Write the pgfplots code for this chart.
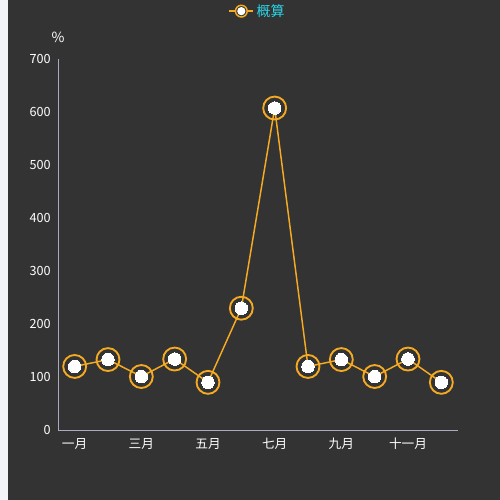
\documentclass[border=0pt]{standalone}
\usepackage{pgfplots}
\pgfplotsset{compat=1.18}
\usepackage{fontspec}
\setmainfont{Noto Sans CJK SC}
\definecolor{bg}{HTML}{333333}
\definecolor{strip}{HTML}{F3F4F8}
\definecolor{lineor}{RGB}{245,170,35}
\definecolor{axisc}{HTML}{A9A9C0}
\definecolor{legc}{HTML}{29D3E6}
\begin{document}
\begin{tikzpicture}
\useasboundingbox (0pt,0pt) rectangle (375pt,375pt);
\fill[bg] (0pt,0pt) rectangle (375pt,375pt);
\fill[strip] (0pt,0pt) rectangle (6pt,375pt);
\begin{axis}[
  at={(43.5pt,52.5pt)}, anchor=south west,
  scale only axis, width=300pt, height=278pt,
  xmin=0.5, xmax=12.5, ymin=0, ymax=700,
  axis x line=bottom, axis y line=left,
  axis line style={draw=axisc, line width=0.6pt, -},
  major tick length=0pt,
  xtick={1,3,5,7,9,11},
  xticklabels={一月,三月,五月,七月,九月,十一月},
  ytick={0,100,200,300,400,500,600,700},
  /pgf/number format/assume math mode=true,
  tick label style={text=white, font=\fontsize{9.5}{11}\selectfont},
  xticklabel style={yshift=-2.5pt},
  yticklabel style={xshift=-2pt},
  ylabel={\%},
  ylabel style={rotate=-90, at={(axis description cs:0,1.06)}, anchor=center, text=white, font=\fontsize{10.5}{12}\selectfont},
  legend style={at={(axis description cs:0.5,1.13)}, anchor=center, draw=none, fill=none, text=legc, font=\fontsize{10.5}{12}\selectfont},
  legend image code/.code={
    \draw[lineor, line width=1.1pt] (0pt,0pt)--(18pt,0pt);
    \draw[lineor, line width=1.1pt, fill=bg] (9pt,0pt) circle (4.4pt);
    \fill[white] (9pt,0pt) circle (2.5pt);
  },
  clip=false,
]
\addplot[lineor, line width=1.1pt, mark=o, mark size=8.6pt, mark options={draw=lineor, line width=1.4pt}] coordinates {
(1,120) (2,133) (3,101) (4,134) (5,90) (6,230) (7,608) (8,120) (9,133) (10,101) (11,134) (12,90)
};
\addlegendentry{概算}
\addplot[only marks, mark=*, mark size=4.7pt, mark options={draw=white, fill=white, line width=0pt}, forget plot] coordinates {
(1,120) (2,133) (3,101) (4,134) (5,90) (6,230) (7,608) (8,120) (9,133) (10,101) (11,134) (12,90)
};
\end{axis}
\end{tikzpicture}
\end{document}
